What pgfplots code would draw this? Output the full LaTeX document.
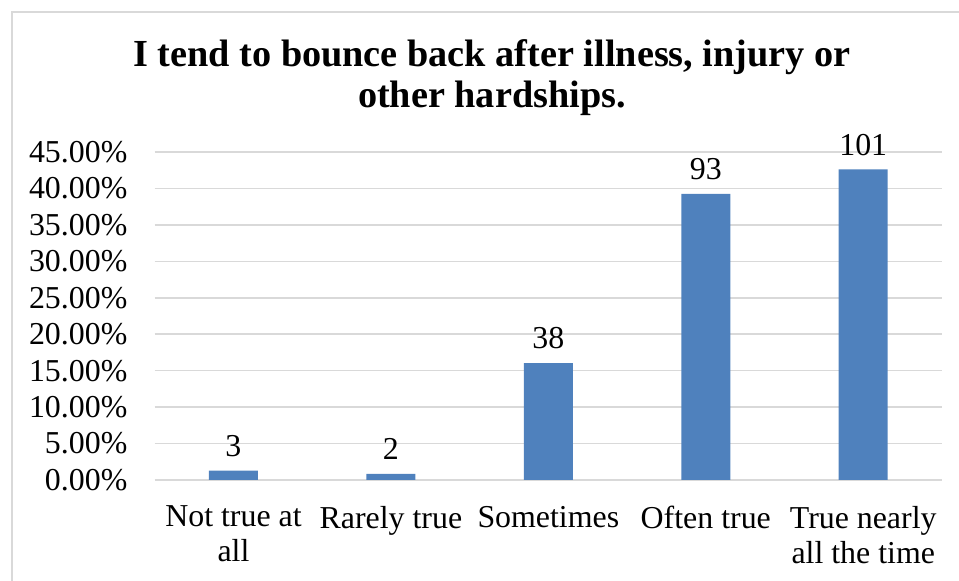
\documentclass[border=0pt]{standalone}
\usepackage{fontspec}
\setmainfont{Liberation Serif}
\usepackage{pgfplots}
\pgfplotsset{compat=1.18}

\definecolor{barblue}{HTML}{4F81BD}
\definecolor{gridgray}{HTML}{D9D9D9}

\begin{document}
\begin{tikzpicture}
  % page = 959x581 px at 0.5bp per px, axis box at the origin
  \useasboundingbox (-77.375bp,-50.5bp) rectangle (402.125bp,240bp);
  \draw[gridgray, line width=0.75bp] (-71.4bp,234bp) rectangle (420bp,-70bp);
  \begin{axis}[
      scale only axis,
      width=393.6bp,
      height=164bp,
      ymin=0, ymax=45,
      xmin=-0.5, xmax=4.5,
      ytick={0,5,...,45},
      xtick=data,
      xticklabels={Not true at\\all, Rarely true, Sometimes, Often true, True nearly\\all the time},
      ybar, bar width=24.5bp,
      axis line style={draw=none},
      major tick length=0pt,
      ymajorgrids,
      grid style={gridgray, line width=0.75bp},
      /pgf/number format/assume math mode=true,
      yticklabel={\pgfmathprintnumber[fixed,fixed zerofill,precision=2]{\tick}\%},
      yticklabel style={font=\fontsize{16}{17.5}\selectfont, xshift=-10.2bp},
      xticklabel style={font=\fontsize{16}{17.5}\selectfont, align=center, yshift=-9.5bp},
      point meta=explicit symbolic,
      nodes near coords,
      every node near coord/.append style={font=\fontsize{16}{17.5}\selectfont, yshift=3.5bp},
    ]
    \addplot[fill=barblue, draw=none] coordinates {
      (0,1.27) [3]
      (1,0.84) [2]
      (2,16.03) [38]
      (3,39.24) [93]
      (4,42.62) [101]
    };
  \end{axis}
  \node[inner sep=0pt, anchor=north, align=center,
        font=\fontsize{19.2}{20.5}\selectfont\bfseries]
    at (168.6bp,220.5bp) {I tend to bounce back after illness, injury or\\other hardships.};
\end{tikzpicture}
\end{document}
